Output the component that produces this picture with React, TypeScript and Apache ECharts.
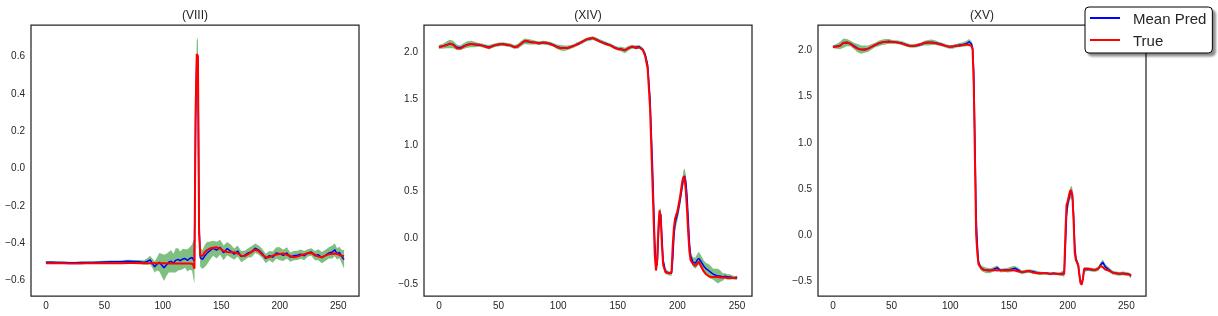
import React, { useEffect, useRef } from "react";
import * as echarts from "echarts";

// ---------- Panel (VIII) ----------
const p1X = [0,5,10,15,20,25,30,35,40,45,50,55,60,65,70,75,80,84,87,89,91,93,95,97,99,101,103,105,107,109,111,113,115,117,119,121,123,125,126,127,128,129,130,131,132,134,136,138,140,143,146,149,152,155,158,161,164,167,170,173,176,179,182,185,188,191,194,197,200,203,206,209,212,215,218,221,224,227,230,233,236,239,242,245,247,249,251,253,255];
const p1True = [-0.510,-0.510,-0.511,-0.511,-0.512,-0.512,-0.512,-0.511,-0.511,-0.510,-0.510,-0.510,-0.510,-0.510,-0.509,-0.509,-0.510,-0.510,-0.510,-0.511,-0.511,-0.511,-0.511,-0.511,-0.511,-0.511,-0.512,-0.512,-0.512,-0.512,-0.512,-0.512,-0.512,-0.512,-0.512,-0.512,-0.512,-0.513,-0.520,-0.540,0.300,0.610,0.600,-0.350,-0.470,-0.470,-0.450,-0.440,-0.432,-0.428,-0.425,-0.432,-0.445,-0.450,-0.452,-0.452,-0.458,-0.470,-0.472,-0.462,-0.450,-0.438,-0.445,-0.465,-0.478,-0.478,-0.470,-0.464,-0.461,-0.458,-0.465,-0.472,-0.478,-0.475,-0.468,-0.462,-0.457,-0.455,-0.465,-0.475,-0.478,-0.470,-0.462,-0.460,-0.458,-0.461,-0.466,-0.470,-0.472];
const p1Mean = [-0.505,-0.505,-0.506,-0.507,-0.508,-0.508,-0.507,-0.506,-0.506,-0.505,-0.504,-0.503,-0.503,-0.502,-0.500,-0.501,-0.503,-0.506,-0.500,-0.492,-0.510,-0.530,-0.515,-0.505,-0.520,-0.535,-0.520,-0.505,-0.500,-0.510,-0.495,-0.490,-0.497,-0.488,-0.485,-0.495,-0.485,-0.480,-0.490,-0.500,0.250,0.580,0.590,-0.300,-0.480,-0.490,-0.470,-0.455,-0.445,-0.430,-0.440,-0.425,-0.455,-0.432,-0.445,-0.462,-0.445,-0.475,-0.468,-0.455,-0.448,-0.430,-0.440,-0.458,-0.485,-0.470,-0.478,-0.455,-0.460,-0.468,-0.455,-0.478,-0.470,-0.468,-0.462,-0.470,-0.455,-0.450,-0.470,-0.465,-0.480,-0.468,-0.455,-0.450,-0.438,-0.460,-0.452,-0.475,-0.490];
const p1Spread = [0.006,0.006,0.006,0.006,0.006,0.006,0.006,0.006,0.006,0.006,0.007,0.007,0.007,0.008,0.008,0.008,0.010,0.012,0.018,0.022,0.025,0.030,0.035,0.050,0.060,0.070,0.060,0.055,0.060,0.050,0.065,0.060,0.050,0.055,0.050,0.060,0.060,0.070,0.100,0.120,0.120,0.100,0.110,0.080,0.050,0.050,0.060,0.060,0.050,0.040,0.045,0.040,0.040,0.035,0.035,0.030,0.030,0.030,0.025,0.025,0.030,0.025,0.025,0.025,0.025,0.025,0.030,0.030,0.035,0.030,0.030,0.025,0.025,0.025,0.025,0.025,0.020,0.020,0.025,0.030,0.030,0.030,0.030,0.035,0.035,0.030,0.030,0.035,0.050];

// ---------- Panel (XIV) ----------
const p2X = [0,3,6,9,12,15,18,21,24,27,30,33,36,39,42,45,48,51,54,57,60,63,66,69,72,75,78,81,84,87,90,93,96,99,102,105,108,111,114,117,120,123,126,129,132,135,138,141,144,147,150,153,156,159,162,165,168,171,173,175,177,179,181,182,183,184,185,186,187,188,190,193,195,196,197,198,200,202,204,205,206,207,208,209,210,211,213,215,217,218,220,222,224,226,228,230,232,234,236,238,240,242,244,246,248,250];
const p2True = [2.05,2.06,2.07,2.09,2.075,2.04,2.035,2.06,2.075,2.085,2.08,2.08,2.07,2.055,2.045,2.06,2.075,2.086,2.08,2.08,2.07,2.05,2.055,2.09,2.12,2.115,2.10,2.10,2.09,2.10,2.10,2.085,2.07,2.05,2.04,2.045,2.04,2.055,2.07,2.085,2.11,2.13,2.145,2.15,2.13,2.11,2.095,2.08,2.07,2.045,2.03,2.025,2.02,2.04,2.06,2.04,2.05,2.02,1.95,1.82,1.40,0.60,-0.20,-0.36,-0.25,0.10,0.29,0.20,-0.10,-0.30,-0.38,-0.39,-0.38,-0.10,0.10,0.20,0.28,0.42,0.60,0.65,0.64,0.50,0.30,0.05,-0.15,-0.25,-0.29,-0.31,-0.28,-0.265,-0.32,-0.37,-0.40,-0.42,-0.43,-0.43,-0.43,-0.43,-0.435,-0.435,-0.435,-0.44,-0.44,-0.44,-0.44,-0.43];
const p2Mean = [2.055,2.06,2.075,2.085,2.08,2.05,2.045,2.065,2.08,2.085,2.08,2.075,2.07,2.06,2.05,2.065,2.075,2.08,2.085,2.075,2.07,2.055,2.06,2.09,2.115,2.11,2.105,2.10,2.095,2.10,2.095,2.09,2.075,2.055,2.045,2.04,2.045,2.055,2.07,2.09,2.105,2.13,2.14,2.148,2.135,2.115,2.10,2.085,2.07,2.05,2.035,2.03,2.015,2.04,2.055,2.05,2.055,2.025,1.97,1.86,1.50,0.80,-0.05,-0.30,-0.30,0.00,0.25,0.25,0.00,-0.25,-0.37,-0.39,-0.39,-0.25,0.00,0.15,0.25,0.38,0.55,0.64,0.66,0.60,0.45,0.20,-0.05,-0.20,-0.27,-0.28,-0.24,-0.23,-0.27,-0.31,-0.34,-0.36,-0.38,-0.40,-0.41,-0.42,-0.42,-0.43,-0.42,-0.43,-0.43,-0.435,-0.44,-0.44];
const p2Spread = [0.02,0.025,0.035,0.045,0.04,0.03,0.025,0.03,0.035,0.035,0.03,0.02,0.02,0.02,0.025,0.02,0.02,0.02,0.02,0.02,0.02,0.02,0.025,0.03,0.03,0.03,0.025,0.02,0.02,0.02,0.02,0.02,0.02,0.025,0.03,0.03,0.025,0.02,0.02,0.02,0.02,0.02,0.02,0.02,0.02,0.02,0.02,0.02,0.02,0.02,0.02,0.025,0.03,0.025,0.02,0.02,0.02,0.02,0.03,0.04,0.05,0.06,0.05,0.04,0.04,0.05,0.05,0.06,0.06,0.04,0.03,0.02,0.03,0.06,0.08,0.08,0.07,0.07,0.07,0.08,0.08,0.08,0.08,0.08,0.06,0.05,0.05,0.06,0.07,0.07,0.07,0.06,0.06,0.07,0.07,0.06,0.07,0.08,0.06,0.04,0.03,0.03,0.03,0.02,0.02,0.02];

// ---------- Panel (XV) ----------
const p3X = [0,3,6,9,12,15,18,21,24,27,30,33,36,39,42,45,48,51,54,57,60,63,66,69,72,75,78,81,84,87,90,93,96,99,102,105,108,111,114,116,118,119,120,121,122,123,124,126,128,131,134,137,140,143,146,149,152,155,158,161,164,167,170,173,176,179,182,185,188,191,194,196,197,198,199,200,201,202,203,204,205,206,207,208,209,210,211,212,213,214,217,220,223,226,228,230,232,235,238,241,244,247,250,252,254];
const p3True = [2.03,2.03,2.04,2.075,2.08,2.06,2.03,2.01,2.0,1.995,2.01,2.03,2.05,2.07,2.08,2.085,2.08,2.085,2.08,2.07,2.06,2.045,2.04,2.04,2.05,2.06,2.075,2.08,2.075,2.07,2.06,2.05,2.04,2.03,2.035,2.045,2.04,2.05,2.055,2.05,2.04,2.0,1.6,0.8,0.0,-0.2,-0.32,-0.36,-0.38,-0.385,-0.39,-0.385,-0.39,-0.385,-0.39,-0.39,-0.385,-0.39,-0.40,-0.405,-0.40,-0.395,-0.41,-0.415,-0.42,-0.42,-0.42,-0.425,-0.425,-0.425,-0.43,-0.43,-0.42,0.0,0.32,0.36,0.42,0.47,0.48,0.42,0.15,-0.2,-0.28,-0.30,-0.33,-0.45,-0.53,-0.54,-0.48,-0.37,-0.37,-0.375,-0.385,-0.37,-0.34,-0.355,-0.38,-0.39,-0.41,-0.42,-0.425,-0.425,-0.43,-0.43,-0.44];
const p3Mean = [2.03,2.035,2.045,2.07,2.075,2.065,2.04,2.015,2.0,2.005,2.01,2.03,2.05,2.065,2.08,2.085,2.09,2.08,2.08,2.075,2.065,2.05,2.04,2.04,2.045,2.055,2.07,2.075,2.08,2.075,2.065,2.055,2.04,2.03,2.03,2.04,2.05,2.055,2.065,2.085,2.06,2.02,1.75,1.0,0.2,-0.1,-0.3,-0.36,-0.375,-0.39,-0.39,-0.375,-0.36,-0.39,-0.385,-0.385,-0.375,-0.365,-0.385,-0.41,-0.40,-0.395,-0.40,-0.41,-0.42,-0.42,-0.42,-0.425,-0.42,-0.425,-0.425,-0.42,-0.43,-0.15,0.2,0.33,0.38,0.44,0.46,0.43,0.22,-0.12,-0.26,-0.30,-0.33,-0.43,-0.52,-0.53,-0.47,-0.38,-0.375,-0.38,-0.385,-0.37,-0.33,-0.30,-0.35,-0.38,-0.41,-0.42,-0.425,-0.42,-0.425,-0.43,-0.45];
const p3Spread = [0.015,0.025,0.04,0.05,0.04,0.03,0.035,0.045,0.045,0.04,0.035,0.03,0.025,0.03,0.03,0.03,0.025,0.02,0.02,0.02,0.02,0.02,0.02,0.02,0.02,0.02,0.025,0.03,0.03,0.025,0.02,0.02,0.02,0.02,0.02,0.02,0.02,0.025,0.03,0.03,0.03,0.04,0.05,0.05,0.05,0.04,0.04,0.03,0.03,0.03,0.025,0.025,0.025,0.02,0.02,0.025,0.03,0.025,0.025,0.02,0.02,0.02,0.02,0.02,0.02,0.015,0.015,0.015,0.015,0.015,0.02,0.03,0.04,0.05,0.06,0.06,0.06,0.06,0.07,0.07,0.06,0.05,0.04,0.04,0.03,0.03,0.025,0.025,0.03,0.025,0.02,0.02,0.02,0.025,0.03,0.03,0.03,0.025,0.02,0.02,0.02,0.02,0.02,0.02,0.025];

const titles = ["(VIII)", "(XIV)", "(XV)"];
const xTicks = [0, 50, 100, 150, 200, 250];
const yTicks = [
  [-0.6, -0.4, -0.2, 0, 0.2, 0.4, 0.6],
  [-0.5, 0, 0.5, 1.0, 1.5, 2.0],
  [-0.5, 0, 0.5, 1.0, 1.5, 2.0],
];
const legendNames = ["Mean Pred", "True"];

const FONT = "Liberation Sans, Arial, sans-serif";
const TXT = "#262626";

export default function App() {
  const ref = useRef<HTMLDivElement>(null);
  useEffect(() => {
    document.body.style.margin = "0";
    const chart = echarts.init(ref.current!, null, { renderer: "svg" });
    const panels = [
      { x: p1X, t: p1True, m: p1Mean, s: p1Spread, xMin: -12.75, xMax: 267.75, yMin: -0.686, yMax: 0.766 },
      { x: p2X, t: p2True, m: p2Mean, s: p2Spread, xMin: -12.5, xMax: 262.5, yMin: -0.635, yMax: 2.29 },
      { x: p3X, t: p3True, m: p3Mean, s: p3Spread, xMin: -12.7, xMax: 266.7, yMin: -0.665, yMax: 2.266 },
    ];
    const lefts = [31, 424, 818];
    const W = 328, TOP = 25, H = 271;
    const fmtY = (v: number) => {
      const s = (Math.abs(v) < 1e-9 ? 0 : v).toFixed(1);
      return s.replace("-", "\u2212");
    };
    const grid = lefts.map((l) => ({
      left: l, top: TOP, width: W, height: H, show: true,
      borderColor: TXT, borderWidth: 1.25, backgroundColor: "#fff",
    }));
    const xAxis = panels.map((p, i) => ({
      type: "value", gridIndex: i, min: p.xMin, max: p.xMax,
      axisLine: { show: false }, axisTick: { show: false }, splitLine: { show: false },
      axisLabel: { customValues: xTicks, formatter: (v: number) => String(Math.round(v)), fontSize: 10, color: TXT, margin: 4, fontFamily: FONT },
    }));
    const yAxis = panels.map((p, i) => ({
      type: "value", gridIndex: i, min: p.yMin, max: p.yMax,
      axisLine: { show: false }, axisTick: { show: false }, splitLine: { show: false },
      axisLabel: { customValues: yTicks[i], formatter: fmtY, fontSize: 10, color: TXT, margin: 6, fontFamily: FONT },
    }));
    const series: any[] = [];
    panels.forEach((p, i) => {
      const bandData = p.x.map((x, k) => [x, p.m[k] - p.s[k], p.m[k] + p.s[k]]);
      series.push({
        type: "custom", name: "band-" + i, xAxisIndex: i, yAxisIndex: i,
        data: bandData, encode: { x: 0, y: [1, 2] }, silent: true, z: 1, clip: true,
        renderItem: (params: any, api: any) => {
          if (params.dataIndex !== 0) return null;
          const upper = bandData.map((d) => api.coord([d[0], d[2]]));
          const lower = bandData.map((d) => api.coord([d[0], d[1]])).reverse();
          return {
            type: "polygon",
            shape: { points: upper.concat(lower) },
            style: { fill: "rgba(0,128,0,0.5)", stroke: "none" },
          };
        },
      });
      series.push({
        type: "line", name: legendNames[0], xAxisIndex: i, yAxisIndex: i,
        data: p.x.map((x, k) => [x, p.m[k]]), symbol: "none", color: "#0000ff",
        lineStyle: { width: 1.5, color: "#0000ff" }, z: 2,
      });
      series.push({
        type: "line", name: legendNames[1], xAxisIndex: i, yAxisIndex: i,
        data: p.x.map((x, k) => [x, p.t[k]]), symbol: "none", color: "#ff0000",
        lineStyle: { width: 2, color: "#ff0000" }, z: 3,
      });
    });
    chart.setOption({
      animation: false,
      grid, xAxis, yAxis, series,
      graphic: titles.map((t, i) => ({
        type: "text", x: lefts[i] + W / 2, y: 9,
        style: { text: t, fontSize: 12, fill: TXT, fontFamily: FONT, align: "center" },
      })),
      legend: {
        data: legendNames, orient: "vertical", left: 1085, top: 7,
        padding: [2, 6, 4, 5], itemGap: 4, itemWidth: 30, itemHeight: 2, icon: "rect",
        backgroundColor: "#fff", borderColor: "#000", borderWidth: 1, borderRadius: 4,
        shadowColor: "rgba(0,0,0,0.45)", shadowBlur: 2, shadowOffsetX: 3, shadowOffsetY: 3,
        textStyle: { fontSize: 15, lineHeight: 18, color: TXT, fontFamily: FONT, padding: [0, 0, 0, 8] },
        selectedMode: false,
      },
    });
    return () => chart.dispose();
  }, []);
  return <div ref={ref} style={{ position: "fixed", left: 0, top: 0, width: 1218, height: 316 }} />;
}
